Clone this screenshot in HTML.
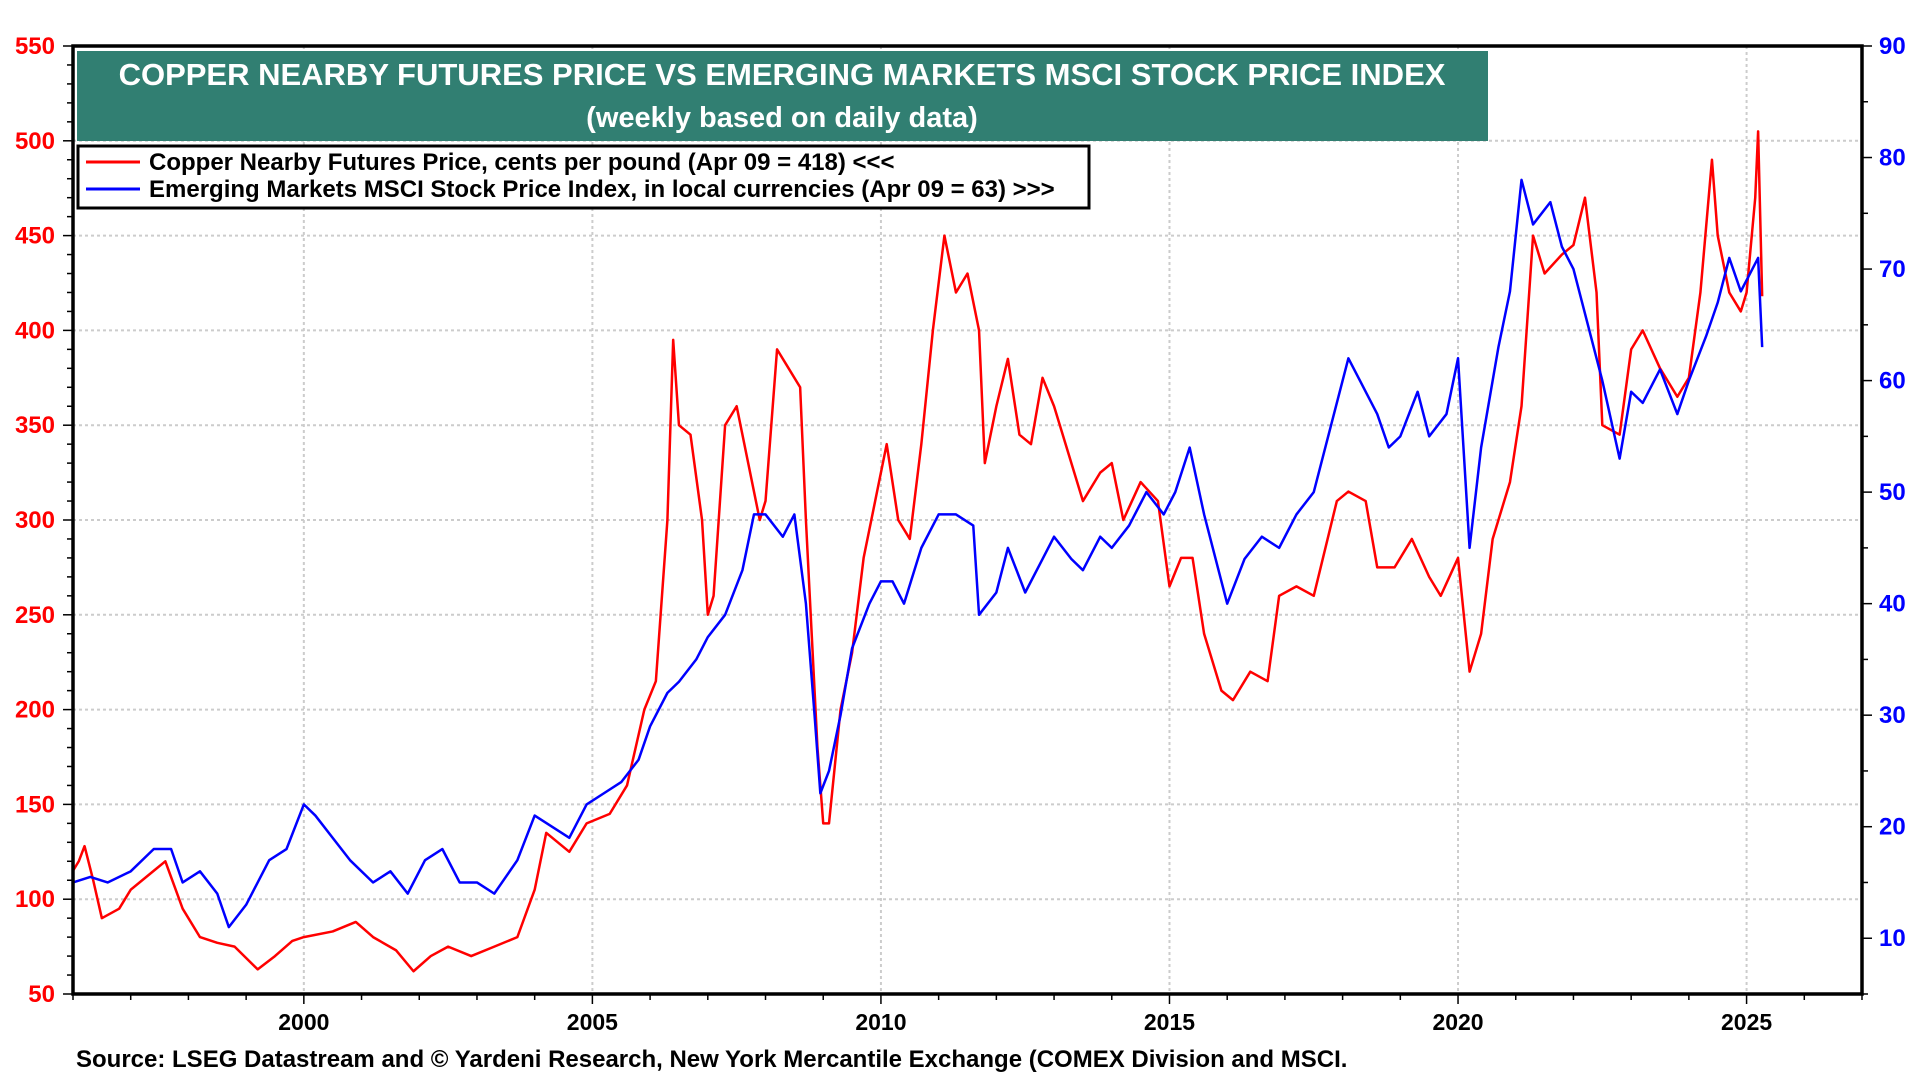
<!DOCTYPE html>
<html><head><meta charset="utf-8"><style>
body{margin:0;background:#fff;}
svg{display:block;font-family:"Liberation Sans",Arial,sans-serif;font-weight:bold;}
</style></head><body>
<svg id="chart" width="1920" height="1080" viewBox="0 0 1920 1080">
<g id="grid"></g>
<g id="series"></g>
<g id="axes"></g>
<rect x="77" y="51" width="1411" height="90" fill="#317f72"/>
<text x="782" y="85" fill="#fff" font-size="31" text-anchor="middle">COPPER NEARBY FUTURES PRICE VS EMERGING MARKETS MSCI STOCK PRICE INDEX</text>
<text x="782" y="127" fill="#fff" font-size="29" text-anchor="middle">(weekly based on daily data)</text>
<g>
<rect x="78" y="146" width="1011" height="62" fill="#fff" stroke="#000" stroke-width="3"/>
<line x1="86" y1="162" x2="140" y2="162" stroke="#f00" stroke-width="3"/>
<text x="149" y="170" font-size="24">Copper Nearby Futures Price, cents per pound (Apr 09 = 418) &lt;&lt;&lt;</text>
<line x1="86" y1="189" x2="140" y2="189" stroke="#00f" stroke-width="3"/>
<text x="149" y="197" font-size="24">Emerging Markets MSCI Stock Price Index, in local currencies (Apr 09 = 63) &gt;&gt;&gt;</text>
</g>
<text x="76" y="1067" font-size="24">Source: LSEG Datastream and © Yardeni Research, New York Mercantile Exchange (COMEX Division and MSCI.</text>
</svg>
<script>
const copperDates=[1996.0,1996.1,1996.2,1996.35,1996.5,1996.8,1997.0,1997.4,1997.6,1997.9,1998.2,1998.5,1998.8,1999.2,1999.5,1999.8,2000.0,2000.5,2000.9,2001.2,2001.6,2001.9,2002.2,2002.5,2002.9,2003.3,2003.7,2004.0,2004.2,2004.6,2004.9,2005.3,2005.6,2005.9,2006.1,2006.3,2006.4,2006.5,2006.7,2006.9,2007.0,2007.1,2007.3,2007.5,2007.7,2007.9,2008.0,2008.2,2008.4,2008.6,2008.7,2008.9,2009.0,2009.1,2009.3,2009.5,2009.7,2009.9,2010.1,2010.3,2010.5,2010.7,2010.9,2011.1,2011.3,2011.5,2011.7,2011.8,2012.0,2012.2,2012.4,2012.6,2012.8,2013.0,2013.3,2013.5,2013.8,2014.0,2014.2,2014.5,2014.8,2015.0,2015.2,2015.4,2015.6,2015.9,2016.1,2016.4,2016.7,2016.9,2017.2,2017.5,2017.9,2018.1,2018.4,2018.6,2018.9,2019.2,2019.5,2019.7,2020.0,2020.2,2020.4,2020.6,2020.9,2021.1,2021.3,2021.5,2021.8,2022.0,2022.2,2022.4,2022.5,2022.8,2023.0,2023.2,2023.5,2023.8,2024.0,2024.2,2024.4,2024.5,2024.7,2024.9,2025.0,2025.15,2025.2,2025.27];
const copperValues=[115,120,128,110,90,95,105,115,120,95,80,77,75,63,70,78,80,83,88,80,73,62,70,75,70,75,80,105,135,125,140,145,160,200,215,300,395,350,345,300,250,260,350,360,330,300,310,390,380,370,300,180,140,140,200,230,280,310,340,300,290,340,400,450,420,430,400,330,360,385,345,340,375,360,330,310,325,330,300,320,310,265,280,280,240,210,205,220,215,260,265,260,310,315,310,275,275,290,270,260,280,220,240,290,320,360,450,430,440,445,470,420,350,345,390,400,380,365,375,420,490,450,420,410,420,470,505,418];
const emDates=[1996.0,1996.3,1996.6,1997.0,1997.4,1997.7,1997.9,1998.2,1998.5,1998.7,1999.0,1999.4,1999.7,2000.0,2000.2,2000.5,2000.8,2001.2,2001.5,2001.8,2002.1,2002.4,2002.7,2003.0,2003.3,2003.7,2004.0,2004.3,2004.6,2004.9,2005.2,2005.5,2005.8,2006.0,2006.3,2006.5,2006.8,2007.0,2007.3,2007.6,2007.8,2008.0,2008.3,2008.5,2008.7,2008.85,2008.95,2009.1,2009.3,2009.5,2009.8,2010.0,2010.2,2010.4,2010.7,2011.0,2011.3,2011.6,2011.7,2012.0,2012.2,2012.5,2012.8,2013.0,2013.3,2013.5,2013.8,2014.0,2014.3,2014.6,2014.9,2015.1,2015.35,2015.6,2015.8,2016.0,2016.3,2016.6,2016.9,2017.2,2017.5,2017.8,2018.1,2018.3,2018.6,2018.8,2019.0,2019.3,2019.5,2019.8,2020.0,2020.2,2020.4,2020.7,2020.9,2021.1,2021.3,2021.6,2021.8,2022.0,2022.3,2022.5,2022.8,2023.0,2023.2,2023.5,2023.8,2024.0,2024.3,2024.5,2024.7,2024.9,2025.1,2025.2,2025.27];
const emValues=[15,15.5,15,16,18,18,15,16,14,11,13,17,18,22,21,19,17,15,16,14,17,18,15,15,14,17,21,20,19,22,23,24,26,29,32,33,35,37,39,43,48,48,46,48,40,30,23,25,30,36,40,42,42,40,45,48,48,47,39,41,45,41,44,46,44,43,46,45,47,50,48,50,54,48,44,40,44,46,45,48,50,56,62,60,57,54,55,59,55,57,62,45,54,63,68,78,74,76,72,70,64,60,53,59,58,61,57,60,64,67,71,68,70,71,63];
const leftTicks=[50,100,150,200,250,300,350,400,450,500,550];
const rightTicks=[10,20,30,40,50,60,70,80,90];
const yearTicks=[2000,2005,2010,2015,2020,2025];

const L=73,R=1862,T=46,B=994,X0=1996.0,X1=2027.0;
const xs=v=>L+(v-X0)/(X1-X0)*(R-L);
const yl=v=>B-(v-50)/500*(B-T);
const yr=v=>B-(v-5)/85*(B-T);
const NS='http://www.w3.org/2000/svg';
function mk(tag,attrs,parent,txt){const e=document.createElementNS(NS,tag);for(const k in attrs)e.setAttribute(k,attrs[k]);if(txt!==undefined)e.textContent=txt;parent.appendChild(e);return e;}
const grid=document.getElementById('grid'),axes=document.getElementById('axes'),series=document.getElementById('series');
leftTicks.forEach(v=>{
  if(v>50&&v<550){const g=mk('line',{x1:L,x2:R,y1:yl(v),y2:yl(v),stroke:'#ccc','stroke-width':2,'stroke-dasharray':'3,3'},grid);
  
  }
  const t=mk('text',{x:55,y:yl(v)+8,fill:'#f00','font-size':24,'text-anchor':'end'},axes,String(v));
  
  
});
for(let v=50;v<=550;v+=10){mk('line',{x1:L-(v%50?6:10),x2:L,y1:yl(v),y2:yl(v),stroke:'#000','stroke-width':1.5},axes);}
rightTicks.forEach(v=>{
  const t=mk('text',{x:1879,y:yr(v)+8,fill:'#00f','font-size':24},axes,String(v));
  
  
});
for(let v=5;v<=90;v+=5){mk('line',{x1:R,x2:R+(v%10?6:10),y1:yr(v),y2:yr(v),stroke:'#000','stroke-width':1.5},axes);}
yearTicks.forEach(v=>{
  const g=mk('line',{x1:xs(v),x2:xs(v),y1:T,y2:B,stroke:'#ccc','stroke-width':2,'stroke-dasharray':'3,3'},grid);
  
  
  const t=mk('text',{x:xs(v),y:1030,'font-size':23,'text-anchor':'middle'},axes,String(v));
  
  
});
for(let y=1996;y<=2027;y++){mk('line',{x1:xs(y),x2:xs(y),y1:B,y2:B+(y%5?6:10),stroke:'#000','stroke-width':1.5},axes);}
const frame=mk('rect',{x:L,y:T,width:R-L,height:B-T,fill:'none',stroke:'#000','stroke-width':3.5},axes);


const pc=mk('polyline',{points:copperDates.map((d,i)=>xs(d)+','+yl(copperValues[i])).join(' '),fill:'none',stroke:'#f00','stroke-width':2.5,'stroke-linejoin':'round'},series);


const pe=mk('polyline',{points:emDates.map((d,i)=>xs(d)+','+yr(emValues[i])).join(' '),fill:'none',stroke:'#00f','stroke-width':2.5,'stroke-linejoin':'round'},series);


</script>
</body></html>
